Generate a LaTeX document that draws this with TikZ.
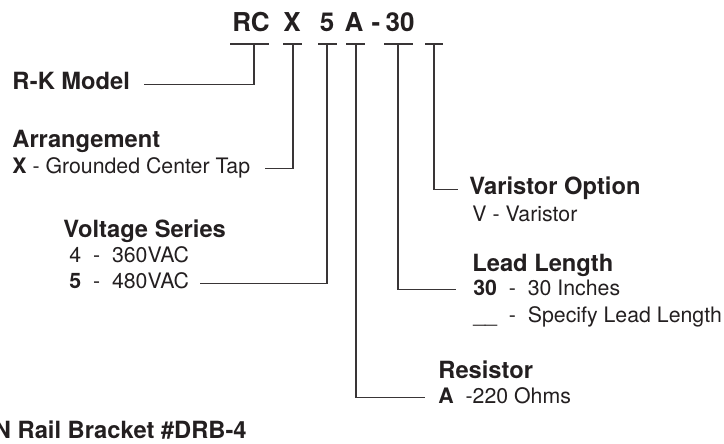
\documentclass[tikz,border=0pt]{standalone}
\usepackage{fontspec}
\setmainfont{TeX Gyre Heros}
\usepackage{xcolor}
\usepackage{tikz}
\usetikzlibrary{positioning}

\definecolor{ink}{HTML}{231F20}

\begin{document}
\begin{tikzpicture}[
x=0.5pt, y=-0.5pt,
code/.style={inner sep=0pt, anchor=base, text=ink, font=\fontsize{13pt}{15pt}\selectfont\bfseries},
head/.style={inner sep=0pt, anchor=base west, text=ink, font=\fontsize{11.85pt}{14pt}\selectfont\bfseries},
item/.style={inner sep=0pt, anchor=base west, text=ink, font=\fontsize{10.65pt}{12.5pt}\selectfont},
leader/.style={draw=ink!90, line width=0.65pt}
]
\useasboundingbox (0,0) rectangle (724,444);
% model code
\node[code] (cRC) at (251,32) {RC};
\node[code] (cX) at (292,32) {X};
\node[code] (c5) at (327,32) {5};
\node[code] (cA) at (354,32) {A};
\node[code] (cDash) at (376,32) {-};
\node[code] (c30) at (400,32) {30};
% ticks under the code
\draw[leader] (230,44) -- (269,44);
\draw[leader] (283,44) -- (302,44);
\draw[leader] (318,44) -- (337,44);
\draw[leader] (346,44) -- (365,44);
\draw[leader] (384,44) -- (413,44);
\draw[leader] (425,44) -- (443,44);
\coordinate (tRC) at (254,44);
\coordinate (tX) at (293,44);
\coordinate (t5) at (327,44);
\coordinate (tA) at (356,44);
\coordinate (t30) at (398,44);
\coordinate (tOpt) at (434,44);
% left side
\node[head] (model) at (12,90) {R-K Model};
\node[head] (arr) at (12,148) {Arrangement};
\node[item] (arrX) at (12,174) {\textbf{X} - Grounded Center Tap};
\node[head] (volt) at (63,238) {Voltage Series};
\node[item] (volt4) at (69,263) {4~~-~~360VAC};
\node[item] (volt5) at (69,289) {\textbf{5}~~-~~480VAC};
% right side
\node[head] (var) at (469,195) {Varistor Option};
\node[item] (varV) at (472,222) {V - Varistor};
\node[head] (lead) at (472,271) {Lead Length};
\node[item] (lead30) at (473,295) {\textbf{30}~~-~~30 Inches};
\node[item] (leadS) at (473,322) {\_\_~~-~~Specify Lead Length};
\node[head] (res) at (438,379) {Resistor};
\node[item] (resA) at (438,403) {\textbf{A}~~-220 Ohms};
\node[head, anchor=base east] (rail) at (247,438) {N Rail Bracket \#DRB-4};
% leaders
\draw[leader] (tRC) |- ([xshift=7pt]model.mid east);
\draw[leader] (tX) |- ([xshift=7pt]arrX.mid east);
\draw[leader] (t5) |- ([xshift=5pt]volt5.mid east);
\draw[leader] (tA) |- ([xshift=-6.5pt]resA.mid west);
\draw[leader] (t30) |- ([xshift=-8.5pt]lead30.mid west);
\draw[leader] (tOpt) |- ([xshift=-5.5pt]var.mid west);
\end{tikzpicture}
\end{document}
